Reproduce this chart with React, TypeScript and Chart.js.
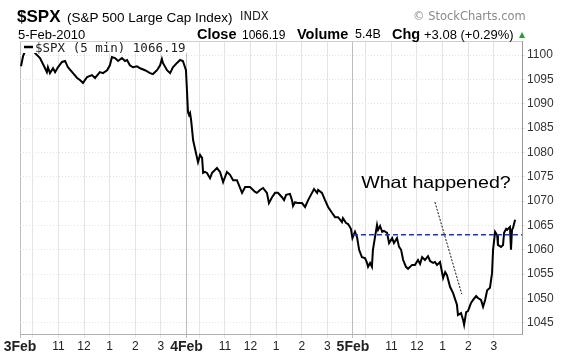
import React, { useEffect, useRef } from 'react';
import { Chart, registerables } from 'chart.js';

Chart.register(...registerables);

// ---- DATA (session hours since 3 Feb 9:30, 6.5 h per trading day) ----
const times = [
  0.04, 0.12, 0.23, 0.39, 0.51, 0.59, 0.78, 0.94, 1.05, 1.09, 1.17, 1.29, 1.37, 1.48, 1.64, 1.76, 1.87,
  2.07, 2.23, 2.34, 2.46, 2.62, 2.81, 2.93, 3.12, 3.24, 3.40, 3.51, 3.59, 3.71, 3.83, 3.98, 4.10, 4.18,
  4.29, 4.41, 4.57, 4.69, 4.88, 5.08, 5.19, 5.35, 5.47, 5.54, 5.58, 5.74, 5.86, 5.97, 6.13, 6.25, 6.36, 6.48,
  6.56, 6.60, 6.64, 6.68, 6.76, 6.87, 6.95, 7.03, 7.11, 7.15, 7.22, 7.30, 7.42, 7.50, 7.69, 7.81, 7.93,
  8.08, 8.20, 8.32, 8.47, 8.67, 8.79, 8.98, 9.18, 9.25, 9.37, 9.49, 9.64, 9.72, 9.84, 9.96, 10.07, 10.23,
  10.31, 10.39, 10.54, 10.62, 10.66, 10.74, 10.85, 11.01, 11.13, 11.25, 11.40, 11.48, 11.60, 11.64, 11.79,
  11.91, 12.03, 12.18, 12.30, 12.42, 12.57, 12.61, 12.73, 12.81, 12.92, 12.98,
  13.08, 13.16, 13.24, 13.35, 13.47, 13.55, 13.59, 13.67, 13.74, 13.78, 13.86, 13.94, 13.98, 14.06, 14.14,
  14.21, 14.33, 14.41, 14.53, 14.60, 14.72, 14.80, 14.88, 14.96, 15.07, 15.15, 15.31, 15.42, 15.54, 15.62,
  15.70, 15.81, 15.93, 16.01, 16.13, 16.20, 16.28, 16.40, 16.52, 16.60, 16.67, 16.79, 16.91, 17.06, 17.10,
  17.22, 17.30, 17.34, 17.42, 17.49, 17.61, 17.69, 17.81, 17.88, 18.00, 18.08, 18.16, 18.24, 18.35, 18.43,
  18.47, 18.55, 18.63, 18.66, 18.78, 18.86, 18.90, 18.98, 19.02, 19.09, 19.13, 19.17, 19.21, 19.25, 19.33,
];
const prices = [
  1097.7, 1099.8, 1101.2, 1101.6, 1101.0, 1100.4, 1099.4, 1097.7, 1096.5, 1097.5, 1096.3, 1097.3, 1096.5,
  1097.5, 1098.6, 1098.8, 1097.5, 1096.3, 1095.3, 1094.9, 1094.3, 1095.5, 1095.9, 1095.3, 1096.5, 1096.3,
  1096.9, 1097.9, 1099.6, 1099.4, 1098.8, 1099.4, 1098.8, 1099.0, 1097.9, 1097.5, 1097.7, 1097.3, 1096.9,
  1096.3, 1096.1, 1096.9, 1097.9, 1099.2, 1098.4, 1096.9, 1096.3, 1097.5, 1098.4, 1099.0, 1098.8, 1096.9,
  1088.3, 1087.7, 1088.1, 1086.7, 1082.5, 1079.9, 1078.0, 1079.5, 1078.9, 1075.8, 1076.0, 1075.8, 1074.7,
  1075.8, 1076.8, 1076.0, 1073.9, 1076.0, 1075.4, 1074.3, 1074.3, 1071.7, 1072.9, 1072.9, 1071.9, 1071.7,
  1072.3, 1072.7, 1071.7, 1069.6, 1070.8, 1071.7, 1071.7, 1070.8, 1070.2, 1071.3, 1071.5, 1070.2, 1069.0,
  1069.8, 1069.6, 1069.6, 1068.8, 1070.2, 1071.7, 1072.5, 1071.7, 1072.3, 1071.7, 1070.2, 1068.8, 1067.6,
  1066.7, 1066.7, 1065.7, 1066.5, 1065.5, 1065.3, 1064.3, 1062.4,
  1063.7, 1062.6, 1060.0, 1058.5, 1058.3, 1057.3, 1056.5, 1057.3, 1056.5, 1060.0, 1062.6, 1065.1, 1064.1,
  1064.9, 1063.7, 1063.9, 1063.5, 1061.4, 1062.4, 1061.4, 1062.4, 1060.6, 1060.0, 1057.9, 1056.5, 1056.1,
  1056.9, 1056.9, 1057.9, 1057.1, 1058.5, 1057.9, 1058.7, 1057.7, 1057.3, 1057.5, 1056.9, 1057.5, 1054.2,
  1055.4, 1054.8, 1052.4, 1051.1, 1048.7, 1046.6, 1047.0, 1045.6, 1044.6, 1047.2, 1047.4, 1049.1, 1049.7,
  1050.5, 1050.1, 1049.7, 1048.3, 1049.7, 1051.7, 1052.2, 1055.2, 1060.0, 1063.7, 1063.0, 1061.0, 1060.6,
  1061.0, 1063.5, 1064.3, 1064.1, 1064.5, 1064.7, 1060.0, 1064.1, 1064.5, 1066.19,
];
const prevClose = 1063.11;
const prevCloseFrom = 13;
const yTicks = [1045, 1050, 1055, 1060, 1065, 1070, 1075, 1080, 1085, 1090, 1095, 1100];
const xTickHours = [0, 0.5, 1.5, 2.5, 3.5, 4.5, 5.5, 6.5, 7, 8, 9, 10, 11, 12, 13, 13.5, 14.5, 15.5, 16.5, 17.5, 18.5];
const xTickLabels = ['3Feb', '', '11', '12', '1', '2', '3', '4Feb', '', '11', '12', '1', '2', '3', '5Feb', '', '11', '12', '1', '2', '3'];
const dayStarts = [0, 6.5, 13];
const legendText = '$SPX (5 min) 1066.19';
const noteText = 'What happened?';
const noteAt = { x: 13.32, y: 1072.7 };
const arrowFrom = { x: 16.2, y: 1069.8 };
const arrowTo = { x: 17.25, y: 1050.9 };

const X_MIN = 0;
const X_MAX = 19.6;
const Y_MIN = 1042.7;
const Y_MAX = 1102.9;

const SANS = '"Liberation Sans", Arial, sans-serif';

const overlayPlugin = {
  id: 'overlay',
  beforeDatasetsDraw(chart: any) {
    const { ctx, chartArea } = chart;
    ctx.save();
    ctx.strokeStyle = '#cfcfcf';
    ctx.lineWidth = 1;
    ctx.beginPath();
    ctx.moveTo(chartArea.left, chartArea.top + 0.5);
    ctx.lineTo(chartArea.right, chartArea.top + 0.5);
    ctx.stroke();
    ctx.restore();
  },
  afterDatasetsDraw(chart: any) {
    const { ctx, chartArea } = chart;
    const x = chart.scales.x;
    const y = chart.scales.y;
    ctx.save();
    // arrow
    ctx.strokeStyle = '#111';
    ctx.lineWidth = 1;
    ctx.setLineDash([2, 1.5]);
    ctx.beginPath();
    ctx.moveTo(x.getPixelForValue(arrowFrom.x), y.getPixelForValue(arrowFrom.y));
    ctx.lineTo(x.getPixelForValue(arrowTo.x), y.getPixelForValue(arrowTo.y));
    ctx.stroke();
    ctx.setLineDash([]);
    // note
    ctx.fillStyle = '#000';
    ctx.font = '16.5px ' + SANS;
    ctx.textBaseline = 'alphabetic';
    ctx.translate(x.getPixelForValue(noteAt.x), y.getPixelForValue(noteAt.y));
    ctx.scale(1.19, 1);
    ctx.fillText(noteText, 0, 0);
    ctx.restore();

    // legend box
    ctx.save();
    const lx = chartArea.left + 1;
    const ly = chartArea.top + 1;
    ctx.fillStyle = '#fff';
    ctx.fillRect(lx, ly, 167, 11);
    ctx.strokeStyle = '#000';
    ctx.lineWidth = 2.5;
    ctx.beginPath();
    ctx.moveTo(lx + 3, ly + 5);
    ctx.lineTo(lx + 12, ly + 5);
    ctx.stroke();
    ctx.fillStyle = '#222';
    ctx.font = '12.5px "DejaVu Sans Mono", monospace';
    ctx.textBaseline = 'alphabetic';
    ctx.fillText(legendText, lx + 14, ly + 9.5);
    ctx.restore();
  },
};

type TxtProps = {
  x: number;
  base: number;
  size: number;
  bold?: boolean;
  family?: string;
  color?: string;
  children: React.ReactNode;
};

function Txt({ x, base, size, bold, family, color, children }: TxtProps) {
  return (
    <div
      style={{
        position: 'absolute',
        left: x,
        top: base - 0.846 * size,
        fontSize: size,
        lineHeight: size + 'px',
        fontWeight: bold ? 700 : 400,
        fontFamily: family || SANS,
        color: color || '#000',
        whiteSpace: 'nowrap',
      }}
    >
      {children}
    </div>
  );
}

export default function App() {
  const canvasRef = useRef<HTMLCanvasElement | null>(null);

  useEffect(() => {
    const canvas = canvasRef.current;
    if (!canvas) return;
    Chart.defaults.font.family = SANS;
    const chart = new Chart(canvas, {
      type: 'line',
      data: {
        datasets: [
          {
            data: [
              { x: prevCloseFrom, y: prevClose },
              { x: X_MAX, y: prevClose },
            ],
            borderColor: '#2233bb',
            borderWidth: 1.5,
            borderDash: [5, 3],
            pointRadius: 0,
            fill: false,
          },
          {
            data: times.map((t, i) => ({ x: t, y: prices[i] })),
            borderColor: '#000',
            borderWidth: 2,
            pointRadius: 0,
            tension: 0,
            fill: false,
          },
        ],
      },
      options: {
        responsive: false,
        animation: false,
        events: [],
        layout: { padding: { left: 20, top: 41, right: 0, bottom: 0 } },
        plugins: { legend: { display: false }, tooltip: { enabled: false } },
        scales: {
          x: {
            type: 'linear',
            min: X_MIN,
            max: X_MAX,
            afterBuildTicks: (axis: any) => {
              axis.ticks = xTickHours.map((v) => ({ value: v }));
            },
            afterFit: (axis: any) => {
              axis.height = 21;
            },
            ticks: {
              autoSkip: false,
              maxRotation: 0,
              padding: 1,
              color: '#222',
              callback: (_v: any, i: number) => xTickLabels[i],
              font: (ctx: any) => {
                const lab = xTickLabels[ctx.index] || '';
                const day = lab.indexOf('Feb') >= 0;
                return { size: day ? 14 : 12, weight: day ? 'bold' : 'normal', family: SANS };
              },
            },
            grid: {
              color: (ctx: any) =>
                ctx.tick && dayStarts.indexOf(ctx.tick.value) >= 0 ? '#bdbdbd' : '#e4e4e4',
              lineWidth: 1,
              tickLength: 4,
            },
            border: { color: '#b0b0b0' },
          },
          y: {
            type: 'linear',
            position: 'right',
            min: Y_MIN,
            max: Y_MAX,
            afterBuildTicks: (axis: any) => {
              axis.ticks = yTicks.map((v) => ({ value: v }));
            },
            afterFit: (axis: any) => {
              axis.width = 54;
            },
            ticks: {
              color: '#333',
              padding: 2,
              font: { size: 12, family: SANS },
              callback: (v: any) => String(v),
            },
            grid: { color: '#e4e4e4', lineWidth: 1, tickLength: 3 },
            border: { display: true, color: '#999', dash: [1, 2] },
          },
        },
      },
      plugins: [overlayPlugin],
    } as any);
    return () => chart.destroy();
  }, []);

  return (
    <div style={{ position: 'absolute', left: 0, top: 0, width: 576, height: 355, background: '#fff' }}>
      <canvas ref={canvasRef} width={576} height={355} style={{ position: 'absolute', left: 0, top: 0 }} />
      <Txt x={17} base={22} size={17} bold>$SPX</Txt>
      <Txt x={67} base={22} size={13.5}>(S&amp;P 500 Large Cap Index)</Txt>
      <Txt x={240} base={21} size={11.5} family='"DejaVu Sans", Verdana, sans-serif' color="#222">INDX</Txt>
      <Txt x={413} base={20.5} size={11.5} family='"DejaVu Sans", Verdana, sans-serif' color="#8a8a8a">© StockCharts.com</Txt>
      <Txt x={18} base={39} size={13}>5-Feb-2010</Txt>
      <Txt x={197} base={39} size={14.5} bold>Close</Txt>
      <Txt x={242} base={39} size={12}>1066.19</Txt>
      <Txt x={297} base={39} size={14.5} bold>Volume</Txt>
      <Txt x={355} base={39} size={12.5}>5.4B</Txt>
      <Txt x={392} base={39} size={14.5} bold>Chg</Txt>
      <Txt x={424} base={39} size={13}>+3.08 (+0.29%)</Txt>
      <div
        style={{
          position: 'absolute',
          left: 519,
          top: 32,
          width: 0,
          height: 0,
          borderLeft: '3.5px solid transparent',
          borderRight: '3.5px solid transparent',
          borderBottom: '6px solid #2a9a3a',
        }}
      />
    </div>
  );
}
